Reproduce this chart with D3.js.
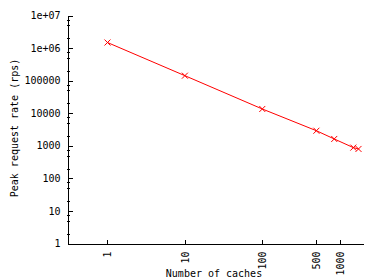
<!DOCTYPE html>
<html><head><meta charset="utf-8">
<script src="https://cdn.jsdelivr.net/npm/d3@7"></script>
<style>
body{margin:0;background:#fff}
text{font-family:"DejaVu Sans Mono",monospace;font-size:10px;fill:#000}
</style>
</head><body><svg id="c" width="380" height="280"></svg>
<script>
const caches=[1,10,100,500,850,1500,1750];
const rates=[1.48e6,1.42e5,1.35e4,2.9e3,1.62e3,880,800];
const yTicks=[1,10,100,1000,10000,100000,1e6,1e7];
const yTickLabels=["1","10","100","1000","10000","100000","1e+06","1e+07"];
const xTicks=[1,10,100,500,1000];
const xTickLabels=["1","10","100","500","1000"];
const yMinorMult=[2,5,7.5];

const svg=d3.select("#c");
const x=d3.scaleLog().domain([0.3,2000]).range([67,363]);
const y=d3.scaleLog().domain([1,1e7]).range([243.5,15.5]);

// minor ticks on y
const minors=[];
yTicks.slice(0,-1).forEach(d=>yMinorMult.forEach(m=>minors.push(d*m)));
svg.append("g").selectAll("line").data(minors).join("line")
  .attr("x1",67).attr("x2",70)
  .attr("y1",d=>Math.round(y(d))+0.5).attr("y2",d=>Math.round(y(d))+0.5)
  .attr("stroke","#000").attr("shape-rendering","crispEdges");

const yAxis=d3.axisLeft(y).tickValues(yTicks).tickFormat((d,i)=>yTickLabels[i])
  .tickSizeInner(-5).tickSizeOuter(0).tickPadding(7);
const gy=svg.append("g").attr("transform","translate(67.5,0)").call(yAxis);
gy.selectAll("path,line").attr("stroke","#000").attr("shape-rendering","crispEdges");
gy.selectAll("text").style("font-family",'"DejaVu Sans Mono",monospace').style("font-size","10px").attr("fill","#000");
gy.attr("font-family",null).attr("font-size",null);

const xAxis=d3.axisBottom(x).tickValues(xTicks).tickFormat((d,i)=>xTickLabels[i])
  .tickSizeInner(-4).tickSizeOuter(0);
const gx=svg.append("g").attr("transform","translate(0,243.5)").call(xAxis);
gx.selectAll("path,line").attr("stroke","#000").attr("shape-rendering","crispEdges");
gx.selectAll("text").attr("transform","rotate(-90)").attr("text-anchor","end")
  .attr("x",-8).attr("y",0).attr("dy","0.35em")
  .style("font-family",'"DejaVu Sans Mono",monospace').style("font-size","10px").attr("fill","#000");
gx.attr("font-family",null).attr("font-size",null);

// data line
const line=d3.line().x((d,i)=>x(caches[i])).y(d=>y(d));
svg.append("path").datum(rates).attr("d",line)
  .attr("fill","none").attr("stroke","#ff0000").attr("stroke-width",1);

// x markers
const mk=svg.append("g").attr("stroke","#ff0000").attr("stroke-width",1);
rates.forEach((r,i)=>{
  const cx=x(caches[i]), cy=y(r), s=3;
  mk.append("line").attr("x1",cx-s).attr("y1",cy-s).attr("x2",cx+s).attr("y2",cy+s);
  mk.append("line").attr("x1",cx-s).attr("y1",cy+s).attr("x2",cx+s).attr("y2",cy-s);
});

svg.append("text").attr("transform","translate(14,128) rotate(-90)")
  .attr("text-anchor","middle").attr("dy","0.35em").text("Peak request rate (rps)");
svg.append("text").attr("x",214).attr("y",277).attr("text-anchor","middle").text("Number of caches");
</script></body></html>
